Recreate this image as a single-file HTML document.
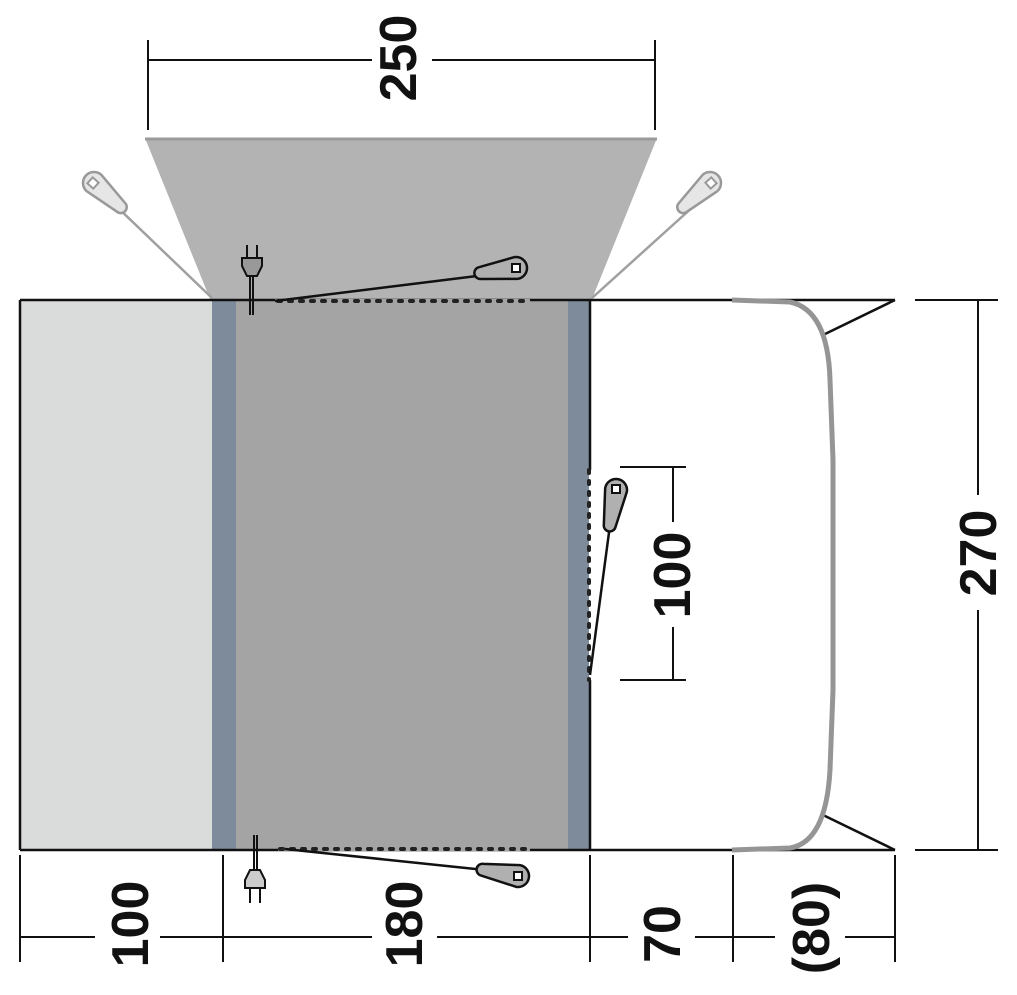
<!DOCTYPE html>
<html><head><style>body{margin:0;background:#fff}svg{display:block}text{font-family:"Liberation Sans",sans-serif;font-weight:bold;font-size:52px;fill:#111}</style></head><body>
<svg width="1017" height="995" viewBox="0 0 1017 995" xmlns="http://www.w3.org/2000/svg">
<defs>
<path id="tag" d="M0,-11 L36,-6 A6,6 0 0 1 36,6 L0,11 A11,11 0 0 1 0,-11 Z"/>
</defs>
<polygon points="145,138 657,138 592,299 210,299" fill="#b3b3b3"/>
<line x1="145" y1="139" x2="657" y2="139" stroke="#9a9a9a" stroke-width="3"/>
<g stroke="#a0a0a0" stroke-width="2.5">
<line x1="115" y1="205" x2="212" y2="298"/>
<line x1="592" y1="298" x2="695" y2="205"/>
</g>
<g fill="#e6e6e6" stroke="#999" stroke-width="2.5">
<use href="#tag" transform="translate(94,183) rotate(42)"/>
<use href="#tag" transform="translate(710,183) rotate(138)"/>
</g>
<rect x="89" y="179" width="8" height="8" fill="#fff" stroke="#999" stroke-width="2" transform="rotate(42 93 183)"/>
<rect x="707" y="179" width="8" height="8" fill="#fff" stroke="#999" stroke-width="2" transform="rotate(-42 711 183)"/>
<rect x="20" y="300" width="192" height="550" fill="#dadcdb"/>
<rect x="212" y="300" width="24" height="550" fill="#7e8b9b"/>
<rect x="236" y="300" width="332" height="550" fill="#a4a4a4"/>
<rect x="568" y="300" width="21" height="550" fill="#7e8b9b"/>
<g stroke="#111" stroke-width="2.5" fill="none">
<line x1="20" y1="300" x2="895" y2="300"/>
<line x1="20" y1="850" x2="895" y2="850"/>
<line x1="20" y1="300" x2="20" y2="850"/>
<line x1="590" y1="300" x2="590" y2="470"/>
<line x1="590" y1="680" x2="590" y2="850"/>
<line x1="895" y1="300" x2="823" y2="335"/>
<line x1="823" y1="815" x2="895" y2="850"/>
</g>
<path d="M732,300 L790,302 Q828,310 830,380 L833,460 L833,690 L830,770 Q826,842 790,848 L732,850" fill="none" stroke="#959595" stroke-width="5"/>
<line x1="275" y1="301" x2="530" y2="301" stroke="#a4a4a4" stroke-width="4"/>
<line x1="278" y1="301" x2="530" y2="301" stroke="#222" stroke-width="4" stroke-dasharray="3,8" stroke-linecap="round"/>
<line x1="278" y1="849" x2="530" y2="849" stroke="#a4a4a4" stroke-width="4"/>
<line x1="280" y1="849" x2="530" y2="849" stroke="#222" stroke-width="4" stroke-dasharray="3,8" stroke-linecap="round"/>
<line x1="589" y1="470" x2="589" y2="680" stroke="#222" stroke-width="4" stroke-dasharray="3,8" stroke-linecap="round"/>
<g stroke="#111" stroke-width="2.5">
<line x1="275" y1="301" x2="485" y2="275"/>
<line x1="285" y1="849" x2="485" y2="870"/>
<line x1="590" y1="675" x2="610" y2="525"/>
</g>
<g fill="#b0b0b0" stroke="#111" stroke-width="2.5">
<use href="#tag" transform="translate(516,268) rotate(172)"/>
<use href="#tag" transform="translate(518,876) rotate(190)"/>
<use href="#tag" transform="translate(616,490) rotate(100)"/>
</g>
<rect x="512" y="264" width="8" height="8" fill="#fff" stroke="#111" stroke-width="2"/>
<rect x="514" y="872" width="8" height="8" fill="#fff" stroke="#111" stroke-width="2"/>
<rect x="612" y="485" width="8" height="8" fill="#fff" stroke="#111" stroke-width="2"/>
<g stroke="#111" stroke-width="2" fill="#999">
<line x1="250" y1="275" x2="250" y2="315"/><line x1="253" y1="275" x2="253" y2="315"/>
<path d="M242,258 h20 v8 l-5,10 h-10 l-5,-10z"/>
<line x1="247" y1="258" x2="247" y2="245"/><line x1="257" y1="258" x2="257" y2="245"/>
<line x1="254" y1="835" x2="254" y2="870"/><line x1="257" y1="835" x2="257" y2="870"/>
<path d="M245,888 h20 v-8 l-5,-10 h-10 l-5,10z" fill="#ccc"/>
<line x1="250" y1="888" x2="250" y2="903"/><line x1="260" y1="888" x2="260" y2="903"/>
</g>
<g stroke="#111" stroke-width="2">
<line x1="148" y1="60" x2="372" y2="60"/><line x1="432" y1="60" x2="655" y2="60"/>
<line x1="148" y1="40" x2="148" y2="130"/><line x1="655" y1="40" x2="655" y2="130"/>
<line x1="20" y1="937" x2="95" y2="937"/><line x1="160" y1="937" x2="372" y2="937"/>
<line x1="437" y1="937" x2="628" y2="937"/><line x1="695" y1="937" x2="775" y2="937"/><line x1="845" y1="937" x2="895" y2="937"/>
<line x1="20" y1="855" x2="20" y2="962"/><line x1="223" y1="855" x2="223" y2="962"/>
<line x1="590" y1="855" x2="590" y2="962"/><line x1="733" y1="855" x2="733" y2="962"/><line x1="895" y1="855" x2="895" y2="962"/>
<line x1="978" y1="300" x2="978" y2="495"/><line x1="978" y1="610" x2="978" y2="850"/>
<line x1="915" y1="300" x2="998" y2="300"/><line x1="915" y1="850" x2="998" y2="850"/>
<line x1="673" y1="467" x2="673" y2="522"/><line x1="673" y1="627" x2="673" y2="680"/>
<line x1="620" y1="467" x2="686" y2="467"/><line x1="620" y1="680" x2="686" y2="680"/>
</g>
<text transform="translate(416,58) rotate(-90)" text-anchor="middle">250</text>
<text transform="translate(148,924) rotate(-90)" text-anchor="middle">100</text>
<text transform="translate(422,924) rotate(-90)" text-anchor="middle">180</text>
<text transform="translate(680,934) rotate(-90)" text-anchor="middle">70</text>
<text transform="translate(829,928) rotate(-90)" text-anchor="middle">(80)</text>
<text transform="translate(996,553) rotate(-90)" text-anchor="middle">270</text>
<text transform="translate(690,575) rotate(-90)" text-anchor="middle">100</text>
</svg>
</body></html>
